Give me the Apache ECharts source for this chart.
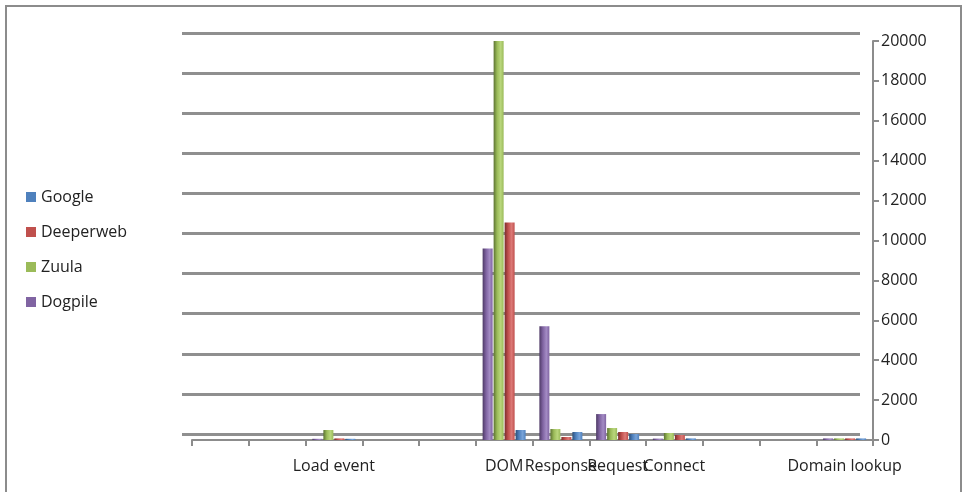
<!DOCTYPE html>
<html>
<head>
<meta charset="utf-8">
<script src="https://cdn.jsdelivr.net/npm/echarts@6/dist/echarts.min.js"></script>
<style>html,body{margin:0;padding:0;background:#fff;}#c{width:963px;height:492px;}</style>
</head>
<body>
<div id="c"></div>
<script>
var categories = ['', '', 'Load event', '', '', 'DOM', 'Response', 'Request', 'Connect', '', '', 'Domain lookup'];
var dogpile   = [null, null, 60, null, null, 9600, 5700, 1300, 70, null, null, 80];
var zuula     = [null, null, 500, null, null, 20000, 550, 600, 350, null, null, 80];
var deeperweb = [null, null, 80, null, null, 10900, 150, 400, 250, null, null, 80];
var google    = [null, null, 60, null, null, 500, 400, 300, 80, null, null, 80];
var legendOrder = ['Google', 'Deeperweb', 'Zuula', 'Dogpile'];
var yMin = 0, yMax = 20000, yStep = 2000;

function cyl(dark, mid, light) {
  return new echarts.graphic.LinearGradient(0, 0, 1, 0, [
    {offset: 0, color: dark}, {offset: 0.35, color: mid},
    {offset: 0.7, color: light}, {offset: 1, color: mid}
  ]);
}
var styles = {
  Dogpile:   {c: '#8064A2', g: cyl('#4e3a66', '#8064A2', '#a38bc4')},
  Zuula:     {c: '#9BBB59', g: cyl('#5c7332', '#9BBB59', '#b9d67c')},
  Deeperweb: {c: '#C0504D', g: cyl('#7a2e2c', '#C0504D', '#dc7a77')},
  Google:    {c: '#4F81BD', g: cyl('#2d4f7a', '#4F81BD', '#78a3d8')}
};
function bar(name, data) {
  return {
    name: name, type: 'bar', xAxisIndex: 1, yAxisIndex: 1, data: data,
    barWidth: 10, barGap: '10%', color: styles[name].c,
    itemStyle: {color: styles[name].g}
  };
}
var font = 'Open Sans, Liberation Sans, sans-serif';
var chart = echarts.init(document.getElementById('c'));
chart.setOption({
  animation: false,
  backgroundColor: '#fff',
  textStyle: {fontFamily: font},
  graphic: [{type: 'rect', shape: {x: 6, y: 6, width: 955, height: 500}, style: {fill: 'none', stroke: '#8c8c8c', lineWidth: 2}, silent: true}],
  legend: {
    orient: 'vertical', left: 21, top: 184, itemWidth: 10, itemHeight: 10, itemGap: 19,
    icon: 'rect',
    data: legendOrder.map(function (n) { return {name: n, itemStyle: {color: styles[n].c}}; }),
    textStyle: {fontSize: 16, color: '#222', fontFamily: font}
  },
  grid: [
    {left: 182, top: 33, width: 678, height: 401},
    {left: 192, top: 41, width: 681, height: 399}
  ],
  xAxis: [
    {gridIndex: 0, type: 'category', data: categories, show: false},
    {gridIndex: 1, type: 'category', data: categories,
     axisLine: {lineStyle: {color: '#8c8c8c', width: 2}},
     axisTick: {show: true, length: 6, lineStyle: {color: '#8c8c8c', width: 2}},
     axisLabel: {interval: 0, margin: 18, fontSize: 16, color: '#222'},
     splitLine: {show: false}}
  ],
  yAxis: [
    {gridIndex: 0, type: 'value', min: yMin, max: yMax, interval: yStep,
     axisLine: {show: false}, axisTick: {show: false}, axisLabel: {show: false},
     splitLine: {show: true, lineStyle: {color: '#8f8f8f', width: 3}}},
    {gridIndex: 1, type: 'value', position: 'right', min: yMin, max: yMax, interval: yStep,
     axisLine: {show: true, lineStyle: {color: '#8c8c8c', width: 2}},
     axisTick: {show: true, length: 6, lineStyle: {color: '#8c8c8c', width: 2}},
     axisLabel: {margin: 8, fontSize: 16, color: '#222', formatter: function (v) { return String(v); }},
     splitLine: {show: false}}
  ],
  series: [
    bar('Dogpile', dogpile),
    bar('Zuula', zuula),
    bar('Deeperweb', deeperweb),
    bar('Google', google)
  ]
});
</script>
</body>
</html>
